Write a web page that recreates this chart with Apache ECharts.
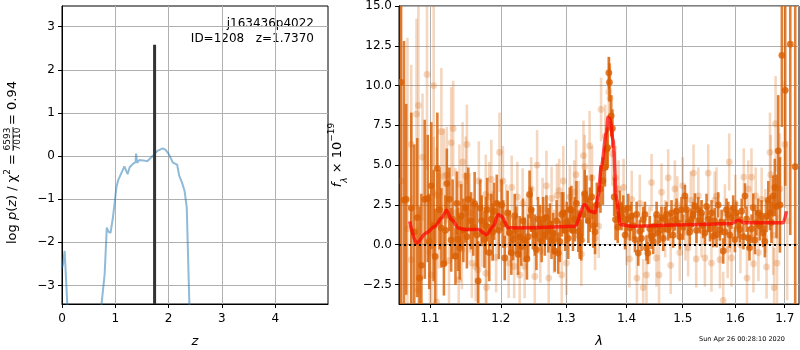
<!DOCTYPE html>
<html>
<head>
<meta charset="utf-8">
<script src="https://cdn.jsdelivr.net/npm/echarts@6/dist/echarts.min.js"></script>
<style>
  html, body { margin: 0; padding: 0; background: #fff; }
  #chart { width: 800px; height: 350px; }
</style>
</head>
<body>
<div id="chart"></div>
<script>
// left panel: log p(z)
const zGrid = [0.0, 0.02, 0.05, 0.10, 0.16, 0.70, 0.74, 0.80, 0.84, 0.87, 0.91, 0.955, 1.02, 1.05, 1.09, 1.17, 1.23, 1.27, 1.33, 1.38, 1.39, 1.41, 1.45, 1.52, 1.60, 1.70, 1.79, 1.89, 1.94, 2.00, 2.08, 2.16, 2.20, 2.25, 2.30, 2.34, 2.39, 2.45]
const logPz = [-2.6, -2.5, -2.2, -3.45, -5, -5, -3.45, -2.74, -1.66, -1.75, -1.78, -1.43, -0.73, -0.57, -0.46, -0.24, -0.42, -0.26, -0.18, -0.14, 0.06, -0.16, -0.09, -0.1, -0.12, 0.0, 0.12, 0.18, 0.15, 0.05, -0.15, -0.2, -0.46, -0.61, -0.81, -1.19, -3.45, -5]
const zBest = 1.737
const zBestTop = 2.58
const zTicks = [0, 1, 2, 3, 4]
const pzTicks = [-3, -2, -1, 0, 1, 2, 3]

// right panel: spectrum
const waveTicks = [1.1, 1.2, 1.3, 1.4, 1.5, 1.6, 1.7]
const fluxTicks = [-2.5, 0, 2.5, 5, 7.5, 10, 12.5, 15]

const darkWave = [1.0615, 1.0655, 1.0684, 1.0751, 1.0790, 1.0830, 1.0860, 1.0885, 1.0930, 1.0970, 1.1018, 1.1050, 1.1070, 1.1100, 1.1155, 1.1190, 1.1230, 1.1265, 1.1310, 1.1350, 1.1385, 1.1430, 1.1490, 1.1530, 1.1570, 1.1620, 1.1670, 1.1720, 1.1760, 1.1800, 1.1860, 1.1900,
  1.2010, 1.2057, 1.2130, 1.2181, 1.2230, 1.2280, 1.2305, 1.2355, 1.2390, 1.2430, 1.2455, 1.2510, 1.2560, 1.2590, 1.2640, 1.2665, 1.2720, 1.2770, 1.2820, 1.2875, 1.2930, 1.2955, 1.3060, 1.3085, 1.3140, 1.3195, 1.3220, 1.3245, 1.3330, 1.3385, 1.3470,
  1.3634, 1.3667, 1.3680, 1.3700, 1.3710, 1.3740, 1.3760, 1.3813, 1.3888, 1.3945, 1.4000, 1.4060, 1.4085, 1.4146, 1.4204, 1.4230, 1.4290, 1.4348, 1.4372, 1.4437, 1.4497, 1.4556, 1.4614, 1.4676, 1.4735, 1.4795, 1.4856, 1.4917, 1.4977, 1.5040, 1.5100, 1.5160, 1.5225, 1.5287,
  1.5350, 1.5414, 1.5476, 1.5572, 1.5635, 1.5700, 1.5764, 1.5828, 1.5862, 1.5925, 1.5992, 1.6018, 1.6090, 1.6190, 1.6255, 1.6280, 1.6356, 1.6420, 1.6490, 1.6557, 1.6625, 1.6695, 1.6760, 1.6830, 1.6864, 1.6940, 1.7010, 1.7116, 1.7220,
  1.0990, 1.1130, 1.1210, 1.1290, 1.1370, 1.1410, 1.1460, 1.1510, 1.1600, 1.1650, 1.1700, 1.1780, 1.1830, 1.1880, 1.1940, 1.1970,
  1.2035, 1.2100, 1.2155, 1.2205, 1.2255, 1.2330, 1.2410, 1.2480, 1.2535, 1.2615, 1.2690, 1.2745, 1.2795, 1.2850, 1.2900, 1.2985, 1.3010, 1.3035, 1.3110, 1.3165, 1.3270, 1.3300, 1.3360, 1.3415, 1.3440, 1.3500, 1.3560, 1.3600,
  1.3790, 1.3850, 1.3915, 1.3975, 1.4030, 1.4115, 1.4175, 1.4260, 1.4320, 1.4405, 1.4467, 1.4527, 1.4585, 1.4645, 1.4705, 1.4765, 1.4825, 1.4887, 1.4947, 1.5008, 1.5070, 1.5130, 1.5190, 1.5255, 1.5320,
  1.5380, 1.5445, 1.5510, 1.5540, 1.5600, 1.5667, 1.5732, 1.5796, 1.5893, 1.5958, 1.6054, 1.6125, 1.6160, 1.6222, 1.6320, 1.6390, 1.6455, 1.6523, 1.6590, 1.6660, 1.6725, 1.6795, 1.6900]
const darkFlux = [10.2, 2.8, 2.85, 2.3, 0.8, 1.7, -2.1, -1.3, 2.85, 2.9, 3.7, 1.2, -0.74, 4.8, 1.05, -1.2, 3.84, 2.85, 1.6, -0.73, 0.34, 1.8, 2.32, 2.85, 1.5, 2.57, -2.28, 1.5, 0.34, 2.2, 1.6, 2.1,
  2.5, -0.84, 0.74, 0.32, 0.9, 0.5, -0.13, 0.3, -0.9, 3.16, 2.2, 0.6, 1.6, 1.2, 1.6, 0.6, 0.9, 0.3, -0.4, -0.53, 1.9, 2.0, 2.2, 2.2, 1.6, 0.84, 0.5, 0.3, 2.85, 2.2, 0.8,
  4.85, 6.0, 6.1, 10.8, 10.2, 8.1, 7.3, 1.58, 2.4, 2.2, 1.58, 1.05, 1.79, 0.32, -0.53, 0.84, 1.58, -0.21, -0.53, 0.53, 1.16, 0.74, 1.69, 1.58, 0.95, 2.0, 1.58, 1.37, 2.2, 3.06, 1.37, 1.58, 2.43, 2.2,
  2.0, 0.74, 1.58, 0.53, 0.63, 0.95, -0.4, 2.2, 1.9, 1.69, 0.32, 2.0, 0.95, 3.06, 0.42, -0.2, 2.32, 1.37, 1.16, 0.74, 1.79, 2.0, 3.06, 2.4, 5.9, 11.9, 9.7, 12.6, 4.9,
  0.2, 2.2, 0.9, 0.3, 2.6, -0.2, 0.9, 0.5, 1.1, 0.6, 2.3, 1.2, -0.5, 0.8, 2.6, 0.9,
  1.3, 2.0, -0.5, 1.8, -0.6, 1.5, 0.5, 1.0, -0.3, 0.2, 1.7, 1.3, 0.7, 1.5, 0.2, 0.9, 1.4, 0.4, 0.9, 2.6, 1.9, 3.2, 1.5, 3.0, 1.2, 2.5, 3.5, 4.0,
  3.0, 1.1, 1.8, 0.6, 2.3, 1.2, 1.9, 0.4, 1.9, 1.0, 0.2, 1.9, 0.9, 0.4, 1.9, 1.2, 0.6, 2.1, 0.5, 1.1, 2.2, 0.8, 1.9, 0.9, 1.5,
  1.2, 2.4, 1.0, 2.0, 1.5, 2.5, 1.4, 0.8, 0.6, 2.3, 1.2, 2.1, 0.5, 1.6, 1.0, 0.3, 2.0, 1.8, 0.2, 2.8, 1.4, 3.6, 2.5]
const darkErr = [14, 10, 6, 6, 5.5, 5, 4.5, 4.5, 5, 4, 4, 3.5, 3, 3.5, 2.5, 2, 2.2, 2, 2.5, 1.8, 2, 2, 2.2, 2, 1.8, 2, 2.5, 1.6, 1.8, 2, 1.6, 1.8,
  1.6, 1.4, 1.4, 1.3, 1.5, 1.3, 1.2, 1.4, 1.3, 1.5, 1.4, 1.3, 1.4, 1.3, 1.4, 1.3, 1.4, 1.2, 1.3, 1.3, 1.4, 1.3, 1.4, 1.5, 1.4, 1.3, 1.4, 1.3, 1.5, 1.4, 1.4,
  1.2, 1.3, 1.3, 1.0, 1.2, 1.3, 1.2, 1.3, 1.0, 0.9, 0.9, 0.8, 0.9, 0.8, 0.8, 0.7, 0.8, 0.8, 0.7, 0.8, 0.7, 0.8, 0.7, 0.8, 0.7, 0.8, 0.7, 0.7, 0.8, 0.7, 0.8, 0.7, 0.8, 0.8,
  0.8, 0.7, 0.8, 0.7, 0.8, 0.7, 0.8, 0.7, 0.8, 0.7, 0.8, 0.7, 0.8, 0.8, 0.7, 0.8, 0.9, 0.8, 0.9, 0.9, 1.0, 1.1, 1.3, 2.0, 3.5, 4.5, 6, 12, 12,
  3, 2.5, 2.2, 2, 2, 2, 2, 2, 1.8, 2, 1.8, 1.8, 1.8, 1.8, 1.8, 1.8,
  1.5, 1.4, 1.4, 1.4, 1.3, 1.4, 1.4, 1.3, 1.3, 1.3, 1.4, 1.3, 1.3, 1.3, 1.3, 1.3, 1.3, 1.3, 1.3, 1.4, 1.4, 1.5, 1.4, 1.4, 1.4, 1.4, 1.5, 1.5,
  1.2, 1.0, 0.9, 0.9, 0.9, 0.8, 0.8, 0.8, 0.8, 0.8, 0.8, 0.8, 0.8, 0.8, 0.8, 0.8, 0.8, 0.8, 0.8, 0.8, 0.8, 0.8, 0.8, 0.8, 0.8,
  0.8, 0.8, 0.8, 0.8, 0.8, 0.8, 0.8, 0.8, 0.8, 0.8, 0.8, 0.8, 0.8, 0.8, 0.9, 0.9, 0.9, 1.0, 1.0, 1.2, 1.3, 1.8, 3]

const lightWave = [1.0620, 1.0700, 1.0750, 1.0750, 1.0820, 1.0845, 1.0845, 1.0960, 1.1020, 1.1050, 1.1050, 1.1090, 1.1090, 1.1155, 1.1190, 1.1230, 1.1290, 1.1318, 1.1395, 1.1405,
  1.1450, 1.1495, 1.1510, 1.1580, 1.1635, 1.1670, 1.1680, 1.1780, 1.1780, 1.1790, 1.1860, 1.1880, 1.1980, 1.2030, 1.2115, 1.2198, 1.2245, 1.2280, 1.2325, 1.2355,
  1.2455, 1.2510, 1.2545, 1.2595, 1.2690, 1.2725, 1.2770, 1.2855, 1.2890, 1.2930, 1.2955, 1.3005, 1.3130, 1.3160, 1.3245, 1.3280, 1.3300, 1.3380, 1.3530, 1.3570,
  1.3700, 1.3720, 1.3760, 1.3865, 1.3950, 1.4050, 1.4090, 1.4180, 1.4290, 1.4348, 1.4437, 1.4525, 1.4570, 1.4614, 1.4735, 1.4780, 1.4856, 1.4945, 1.5000, 1.5100,
  1.5200, 1.5250, 1.5290, 1.5414, 1.5476, 1.5538, 1.5635, 1.5700, 1.5764, 1.5797, 1.5880, 1.5925, 1.6166, 1.6230, 1.6255, 1.6320, 1.6405, 1.6460, 1.6525, 1.6625,
  1.6695, 1.6710, 1.6760, 1.6780, 1.6810, 1.6840, 1.7000,
  1.0900, 1.1000, 1.1120, 1.1260, 1.1350, 1.1440, 1.1550, 1.1720, 1.1830, 1.1930, 1.2080, 1.2160, 1.2390, 1.2630, 1.2810, 1.3060, 1.3200, 1.3420, 1.3470, 1.3640,
  1.3810, 1.4000, 1.4230, 1.4400, 1.4680, 1.4900, 1.5050, 1.5150, 1.5350, 1.5600, 1.5850, 1.6000, 1.6100, 1.6360, 1.6600, 1.6900, 1.7050]
const lightFlux = [4.0, 1.0, 6.3, -0.95, 8.2, 8.75, -2.85, 10.7, -1.9, 10.0, 3.27, 3.1, -3.6, 7.1, 4.3, 4.4, 6.4, 7.3, -2.2, 3.8,
  5.2, 4.3, 6.3, -1.16, -1.37, -1.58, 4.0, 3.16, -1.8, -2.7, 4.1, 1.16, 5.8, 4.0, -1.16, -1.37, 3.0, -1.9, 2.6, -1.37,
  3.5, -2.0, 5.0, -0.4, 3.7, -2.1, 2.9, 3.1, 3.4, -1.9, 4.0, -1.16, 3.3, 4.4, -0.6, 5.6, 4.9, 6.2, 1.16, 8.5,
  9.6, 9.2, 5.7, 3.5, 3.6, -0.9, 2.85, -2.1, -2.7, -1.9, 3.9, -0.84, -1.9, 3.3, 4.2, -1.3, 3.5, -0.5, 3.7, -0.2,
  4.5, -0.9, 3.06, -0.84, 4.5, -1.16, 3.06, -0.95, -3.5, 2.0, 5.2, -0.84, 4.25, -2.1, 3.5, 4.25, 3.06, -0.5, 2.85, -1.4,
  5.8, 4.4, 0.6, -2.7, 7.6, -1.16, 6.3,
  5.5, -0.5, 1.5, -1.0, 2.0, -0.3, 2.0, 0.8, 3.0, -0.8, 1.8, 3.6, 1.2, 2.2, 0.2, 3.0, 2.0, 4.2, 0.4, 6.8,
  4.2, 0.5, 2.6, 0.6, 1.0, 2.5, 0.8, 2.8, 1.0, 2.8, -0.3, 2.6, 0.0, -1.2, 1.5, 3.5, 1.5]
const lightErr = [14, 12, 5, 4, 6, 7, 4, 6, 3.5, 5, 3.5, 3, 3, 4, 3, 3, 3.5, 3, 2.5, 2.5,
  2.5, 2.5, 2.5, 2.2, 2.2, 2.2, 2.5, 2.5, 2.2, 2.2, 2.5, 2.2, 2.5, 2.2, 2.2, 2, 2.2, 2, 2.2, 2,
  2, 2, 2.2, 2, 2.2, 2, 2, 2, 2, 2, 2.2, 2, 2, 2.2, 2, 2.2, 2, 2.2, 2, 2,
  2.2, 2, 2, 1.8, 1.8, 1.8, 1.8, 1.8, 1.8, 1.8, 1.8, 1.8, 1.8, 1.8, 1.8, 1.8, 1.8, 1.8, 1.8, 1.8,
  1.8, 1.8, 1.8, 1.8, 1.8, 1.8, 1.8, 1.8, 1.8, 1.8, 1.8, 1.8, 1.8, 1.8, 1.8, 1.8, 1.8, 1.8, 2, 2,
  2.5, 2.5, 2.5, 2.5, 3, 3, 4,
  4, 3.5, 3, 2.8, 2.8, 2.5, 2.5, 2.2, 2.2, 2.2, 2, 2, 2, 2, 2, 2, 2, 2, 2, 2,
  2, 1.8, 1.8, 1.8, 1.8, 1.8, 1.8, 1.8, 1.8, 1.8, 1.8, 1.8, 1.8, 1.8, 2, 3.5, 5]

const modelWave = [1.073, 1.082, 1.095, 1.107, 1.116, 1.1226, 1.1295, 1.139, 1.147, 1.167, 1.179, 1.189, 1.196, 1.2008, 1.211, 1.246, 1.314, 1.330, 1.339, 1.347, 1.352, 1.3577, 1.366, 1.3685, 1.3718, 1.377, 1.383, 1.389, 1.4086, 1.529, 1.5925, 1.6056, 1.619, 1.6966, 1.7036]
const modelFlux = [1.47, 0.1, 0.74, 1.16, 1.69, 2.17, 1.58, 1.05, 0.95, 0.95, 0.63, 1.16, 1.9, 1.79, 1.06, 1.06, 1.16, 2.53, 2.1, 2.0, 3.06, 4.96, 7.07, 8.0, 7.9, 6.6, 2.85, 1.27, 1.16, 1.27, 1.33, 1.54, 1.37, 1.37, 2.1]

const FONT = 'DejaVu Sans'
const orange = [217, 95, 2]

const chart = echarts.init(document.getElementById('chart'))

function minus (v) {
  return String(v).replace('-', '\u2212')
}

function errorBars (alpha) {
  const col = `rgba(${orange[0]},${orange[1]},${orange[2]},${alpha})`
  return function (params, api) {
    const x = api.value(0)
    const y = api.value(1)
    const e = api.value(2)
    const top = api.coord([x, y + e])
    const bot = api.coord([x, y - e])
    const mid = api.coord([x, y])
    const cs = params.coordSys
    return {
      type: 'group',
      clipPath: { type: 'rect', shape: { x: cs.x, y: cs.y, width: cs.width, height: cs.height } },
      children: [
        { type: 'line', shape: { x1: top[0], y1: top[1], x2: bot[0], y2: bot[1] }, style: { stroke: col, lineWidth: 2.6 } },
        { type: 'circle', shape: { cx: mid[0], cy: mid[1], r: 3.4 }, style: { fill: col } }
      ]
    }
  }
}

const axisCommon = {
  axisLine: { show: true, onZero: false, lineStyle: { color: '#000', width: 1 } },
  axisTick: { show: true, inside: false, length: 4, lineStyle: { color: '#000' } },
  splitLine: { show: true, lineStyle: { color: '#b0b0b0', width: 1 } },
  axisLabel: { color: '#000', fontFamily: FONT, fontSize: 12 }
}

const option = {
  animation: false,
  backgroundColor: '#fff',
  grid: [
    { left: 62, top: 6, width: 266, height: 298, outerBoundsMode: 'none', containLabel: false, show: true, borderColor: '#000', borderWidth: 1, backgroundColor: 'transparent' },
    { left: 399, top: 6, width: 400, height: 298, outerBoundsMode: 'none', containLabel: false, show: true, borderColor: '#000', borderWidth: 1, backgroundColor: 'transparent' }
  ],
  xAxis: [
    {
      type: 'value', gridIndex: 0, min: 0, max: 4.99,
      name: 'z', nameLocation: 'middle', nameGap: 31,
      nameTextStyle: { fontFamily: FONT, fontSize: 13, fontStyle: 'italic', color: '#000' },
      axisLine: axisCommon.axisLine,
      axisTick: { ...axisCommon.axisTick, customValues: zTicks },
      splitLine: axisCommon.splitLine,
      axisLabel: { ...axisCommon.axisLabel, margin: 9, customValues: zTicks, formatter: minus }
    },
    {
      type: 'log', gridIndex: 1, min: 1.059, max: 1.73,
      name: 'λ', nameLocation: 'middle', nameGap: 31,
      nameTextStyle: { fontFamily: FONT, fontSize: 13, fontStyle: 'italic', color: '#000' },
      axisLine: axisCommon.axisLine,
      axisTick: { ...axisCommon.axisTick, customValues: waveTicks },
      splitLine: axisCommon.splitLine,
      minorTick: { show: false },
      axisLabel: { ...axisCommon.axisLabel, margin: 9, customValues: waveTicks, formatter: v => Number(v).toFixed(1) }
    }
  ],
  yAxis: [
    {
      type: 'value', gridIndex: 0, min: -3.43, max: 3.48,
      axisLine: axisCommon.axisLine,
      axisTick: { ...axisCommon.axisTick, customValues: pzTicks },
      splitLine: axisCommon.splitLine,
      axisLabel: { ...axisCommon.axisLabel, margin: 7, customValues: pzTicks, formatter: minus }
    },
    {
      type: 'value', gridIndex: 1, min: -3.73, max: 15,
      name: '{i|f}{sub|λ}{n| × 10}{sup|−19}', nameLocation: 'middle', nameGap: 50, nameRotate: 90,
      nameTextStyle: {
        color: '#000',
        rich: {
          i: { fontFamily: FONT, fontSize: 13, fontStyle: 'italic' },
          n: { fontFamily: FONT, fontSize: 13 },
          sub: { fontFamily: FONT, fontSize: 9, fontStyle: 'italic', verticalAlign: 'bottom', lineHeight: 22 },
          sup: { fontFamily: FONT, fontSize: 9, verticalAlign: 'top', lineHeight: 22 }
        }
      },
      axisLine: axisCommon.axisLine,
      axisTick: { ...axisCommon.axisTick, customValues: fluxTicks },
      splitLine: axisCommon.splitLine,
      axisLabel: { ...axisCommon.axisLabel, margin: 7, customValues: fluxTicks, formatter: v => minus(Number(v).toFixed(1)) }
    }
  ],
  graphic: [
    {
      type: 'group', x: 13, y: 156, rotation: Math.PI / 2,
      children: [
        {
          type: 'text', x: 2, y: 0,
          style: {
            text: '{n|log }{i|p}{n|(}{i|z}{n|) / χ}{s|2}{n| =}',
            align: 'right', verticalAlign: 'middle', fill: '#000',
            rich: {
              n: { fontFamily: FONT, fontSize: 13 },
              i: { fontFamily: FONT, fontSize: 13, fontStyle: 'italic' },
              s: { fontFamily: FONT, fontSize: 9, verticalAlign: 'top', lineHeight: 20 }
            }
          }
        },
        { type: 'text', x: 17, y: -5, style: { text: '6593', font: '9px DejaVu Sans', align: 'center', verticalAlign: 'middle', fill: '#000' } },
        { type: 'line', shape: { x1: 5, y1: 0, x2: 29, y2: 0 }, style: { stroke: '#000', lineWidth: 0.8 } },
        { type: 'text', x: 17, y: 5, style: { text: '7010', font: '9px DejaVu Sans', align: 'center', verticalAlign: 'middle', fill: '#000' } },
        { type: 'text', x: 31, y: 0, style: { text: '= 0.94', font: '13px DejaVu Sans', align: 'left', verticalAlign: 'middle', fill: '#000' } }
      ]
    },
    { type: 'text', x: 314, y: 24, style: { text: 'j163436p4022', font: '12px DejaVu Sans', align: 'right', verticalAlign: 'middle', fill: '#000' } },
    { type: 'text', x: 314, y: 39, style: { text: 'ID=1208   z=1.7370', font: '12px DejaVu Sans', align: 'right', verticalAlign: 'middle', fill: '#000' } },
    { type: 'text', x: 742, y: 339, style: { text: 'Sun Apr 26 00:28:10 2020', font: '6.5px DejaVu Sans', align: 'center', verticalAlign: 'middle', fill: '#000' } }
  ],
  series: [
    {
      type: 'line', xAxisIndex: 0, yAxisIndex: 0,
      data: zGrid.map((z, i) => [z, logPz[i]]),
      showSymbol: false, clip: true,
      lineStyle: { color: 'rgba(31,119,180,0.5)', width: 2 }
    },
    {
      type: 'line', xAxisIndex: 0, yAxisIndex: 0,
      data: [[zBest, -3.43], [zBest, zBestTop]],
      showSymbol: false,
      lineStyle: { color: '#333', width: 3 }
    },
    {
      type: 'custom', xAxisIndex: 1, yAxisIndex: 1,
      data: lightWave.map((w, i) => [w, lightFlux[i], lightErr[i]]),
      encode: { x: 0, y: 1 },
      renderItem: errorBars(0.25)
    },
    {
      type: 'custom', xAxisIndex: 1, yAxisIndex: 1,
      data: darkWave.map((w, i) => [w, darkFlux[i], darkErr[i]]),
      encode: { x: 0, y: 1 },
      renderItem: errorBars(0.8)
    },
    {
      type: 'line', xAxisIndex: 1, yAxisIndex: 1,
      data: modelWave.map((w, i) => [w, modelFlux[i]]),
      showSymbol: false, smooth: 0.3, smoothMonotone: 'x',
      lineStyle: { color: 'rgba(255,0,0,0.7)', width: 3.5 },
      markLine: {
        silent: true, symbol: 'none', label: { show: false },
        lineStyle: { color: '#000', width: 2, type: [2, 3] },
        data: [{ yAxis: 0 }]
      }
    }
  ]
}

chart.setOption(option)
</script>
</body>
</html>
